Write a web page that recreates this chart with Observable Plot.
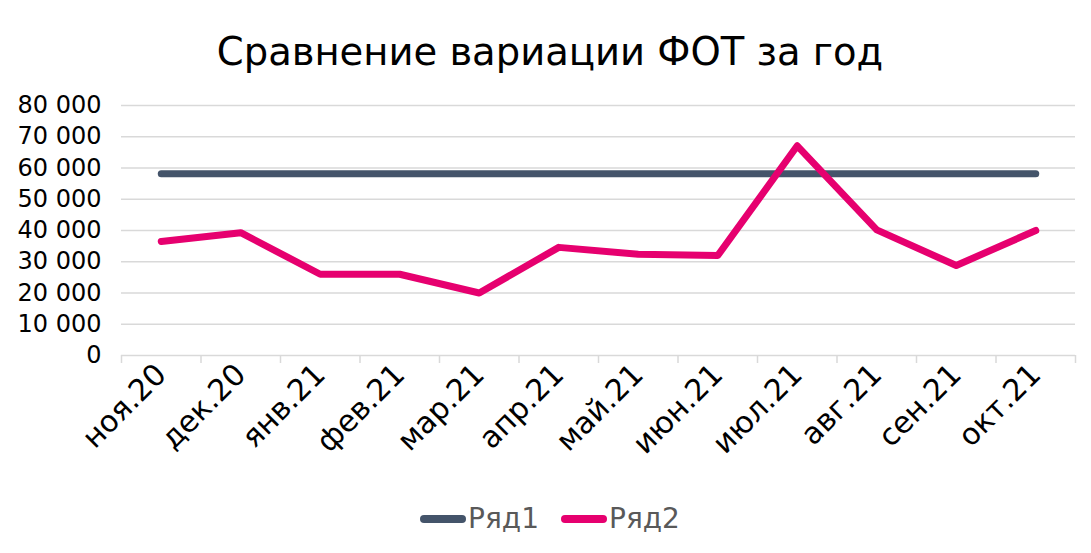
<!DOCTYPE html>
<html>
<head>
<meta charset="utf-8">
<script src="https://cdn.jsdelivr.net/npm/d3@7"></script>
<script src="https://cdn.jsdelivr.net/npm/@observablehq/plot@0.6"></script>
<style>
  html, body { margin: 0; padding: 0; background: #fff; }
  #wrap { width: 1091px; height: 553px; position: relative; font-family: "DejaVu Sans", Verdana, sans-serif; }
  #title { position: absolute; top: 29px; left: 0; width: 1100px; text-align: center; font-size: 38.5px; color: #000; white-space: nowrap; }
  #chart { position: absolute; top: 90px; left: 0; }
  #legend { position: absolute; top: 502px; left: 0; width: 1100px; display: flex; justify-content: center; align-items: center; font-size: 28px; color: #595959; }
  .item { display: flex; align-items: center; margin: 0 11px; }
  .sw { width: 46px; height: 8px; border-radius: 4px; margin-right: 2px; }
</style>
</head>
<body>
<div id="wrap">
  <div id="title">Сравнение вариации ФОТ за год</div>
  <div id="chart"></div>
  <div id="legend"></div>
</div>
<script>
const months = ["ноя.20", "дек.20", "янв.21", "фев.21", "мар.21", "апр.21", "май.21", "июн.21", "июл.21", "авг.21", "сен.21", "окт.21"];
const series1 = [58200, 58200, 58200, 58200, 58200, 58200, 58200, 58200, 58200, 58200, 58200, 58200];
const series2 = [36500, 39300, 26000, 26000, 20000, 34600, 32400, 32000, 67100, 40200, 28800, 40000];
const seriesNames = ["Ряд1", "Ряд2"];
const seriesColors = ["#44546a", "#e6006f"];
const yTicks = [0, 10000, 20000, 30000, 40000, 50000, 60000, 70000, 80000];

const data = [];
months.forEach((m, i) => {
  data.push({i, month: m, value: series1[i], series: seriesNames[0]});
  data.push({i, month: m, value: series2[i], series: seriesNames[1]});
});
const boundaries = d3.range(months.length + 1).map(k => k - 0.5);
const fmt = d => d3.format(",")(d).replace(/,/g, " ");

const plot = Plot.plot({
  width: 1091,
  height: 410,
  marginTop: 15,
  marginBottom: 145,
  marginLeft: 121,
  marginRight: 16,
  style: {fontFamily: "DejaVu Sans, Verdana, sans-serif", background: "transparent"},
  x: {type: "linear", domain: [-0.5, months.length - 0.5]},
  y: {domain: [0, 80000]},
  color: {domain: seriesNames, range: seriesColors},
  marks: [
    Plot.gridY(yTicks, {stroke: "#d9d9d9", strokeOpacity: 1, strokeWidth: 1.5}),
    Plot.axisX(boundaries, {tickSize: 8, tickFormat: () => "", stroke: "#d9d9d9", strokeWidth: 1.5, label: null}),
    Plot.axisX(d3.range(months.length), {
      tickSize: 0, tickRotate: -45, tickPadding: 14, fontSize: 30, fill: "#000",
      tickFormat: i => months[i], label: null, textAnchor: "end"
    }),
    Plot.axisY(yTicks, {tickSize: 0, tickPadding: 20, fontSize: 24, fill: "#000", tickFormat: fmt, label: null}),
    Plot.line(data, {x: "i", y: "value", z: "series", stroke: "series", strokeWidth: 7, strokeLinecap: "round", strokeLinejoin: "round"})
  ]
});
document.getElementById("chart").appendChild(plot);

const legend = document.getElementById("legend");
seriesNames.forEach((n, k) => {
  const it = document.createElement("div");
  it.className = "item";
  const sw = document.createElement("div");
  sw.className = "sw";
  sw.style.background = seriesColors[k];
  const t = document.createElement("span");
  t.textContent = n;
  it.appendChild(sw); it.appendChild(t);
  legend.appendChild(it);
});
</script>
</body>
</html>
